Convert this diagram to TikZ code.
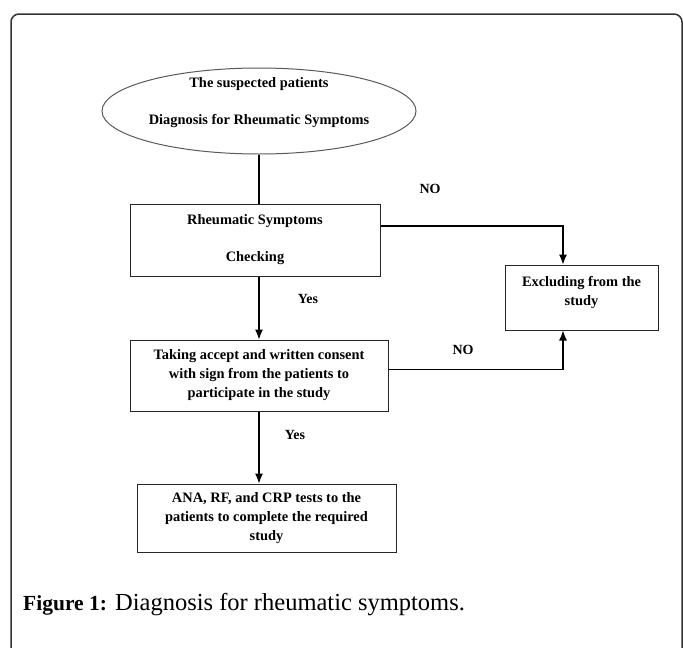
\documentclass[tikz,border=0pt]{standalone}
\usepackage{fontspec}
\setmainfont{Liberation Serif}
\usetikzlibrary{shapes.geometric,arrows.meta}

\tikzset{
  boxtext/.style={font=\fontsize{14.4}{19}\selectfont\bfseries, align=center, inner sep=0pt},
  stepbox/.style={boxtext, draw=black!85, line width=1pt, minimum width=#1},
  flow/.style={line width=1.2pt, -{Latex[length=10pt,width=8pt]}},
  answer/.style={font=\fontsize{14}{17}\selectfont\bfseries, inner sep=0pt}
}

\begin{document}
\begin{tikzpicture}[x=1pt, y=-1pt]
        \useasboundingbox (0,0) rectangle (683,648);
        % outer frame
        \draw[line width=1.5pt, black!80, rounded corners=8pt] (11,660) -- (11,14) -- (682,14) -- (682,660);

        \node[ellipse, draw=black!65, line width=1pt, minimum width=314pt, minimum height=86pt, inner sep=0pt] (susp) at (259,111) {};
        \node[boxtext] (susptxt) at (259,103) {The suspected patients\\[18pt]Diagnosis for Rheumatic Symptoms};

        \node[stepbox=250pt, minimum height=72pt] (rheum) at (255,240) {Rheumatic Symptoms\\[18pt]Checking};
        \node[stepbox=153pt, minimum height=65pt] (excl) at (581.5,297.5) {Excluding from the\\study\rule[-13pt]{0pt}{1pt}};
        \node[stepbox=258pt, minimum height=71pt] (cons) at (259,375.5) {Taking accept and written consent\\with sign from the patients to\\participate in the study};
        \node[stepbox=259pt, minimum height=68pt] (tests) at (266.5,518) {ANA, RF, and CRP tests to the\\patients to complete the required\\study};

        %\node at (259,154){x};
        \draw[line width=1.2pt] (susp.south) -- (susp.south |- rheum.north);
        \draw[flow] ([yshift=14pt]rheum.east) -| ([xshift=-18.5pt]excl.north);
        \draw[flow] (rheum.south -| susp.south) -- (cons.north -| susp.south);
        \draw[flow] ([yshift=6pt]cons.east) -| ([xshift=-18.5pt]excl.south);
        \draw[flow] (cons.south -| susp.south) -- (tests.north -| susp.south);

        \node[answer] (no1) at (430,189) {NO};
        \node[answer] (yes1) at (308,299) {Yes};
        \node[answer] (no2) at (463,350) {NO};
        \node[answer] (yes2) at (295,435) {Yes};

        \node[anchor=base west, inner sep=0pt, font=\fontsize{24.5}{28}\selectfont] (caption) at (23,610) {{\fontsize{21.5}{26}\selectfont\bfseries Figure 1:} Diagnosis for rheumatic symptoms.};
    \end{tikzpicture}
\end{document}
